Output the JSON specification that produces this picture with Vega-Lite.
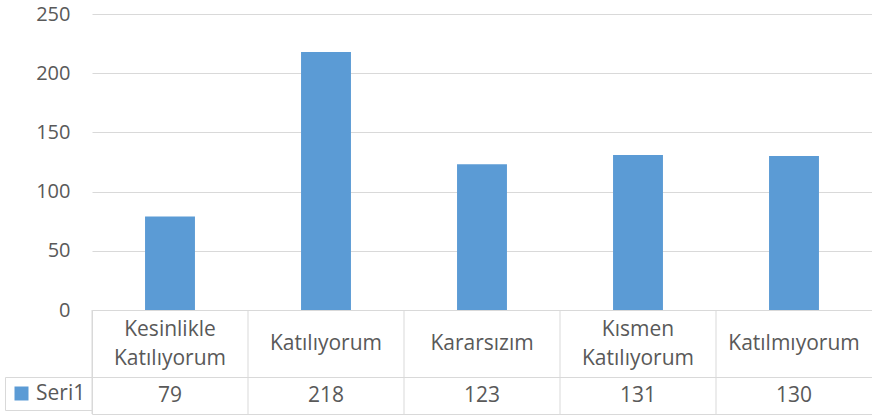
{
  "$schema": "https://vega.github.io/schema/vega-lite/v6.json",
  "padding": {"left": 4, "top": 4, "right": 0, "bottom": 0},
  "spacing": 0,
  "bounds": "flush",
  "config": {"font": "Open Sans", "view": {"stroke": null}},
  "data": {"values": [
    {"cat": "Kesinlikle Katılıyorum", "value": 79},
    {"cat": "Katılıyorum", "value": 218},
    {"cat": "Kararsızım", "value": 123},
    {"cat": "Kısmen Katılıyorum", "value": 131},
    {"cat": "Katılmıyorum", "value": 130}
  ]},
  "resolve": {"scale": {"x": "independent", "y": "independent", "color": "independent"}, "legend": {"color": "independent"}},
  "vconcat": [
    {
      "width": 780, "height": 296,
      "mark": {"type": "bar", "color": "#5B9BD5"},
      "encoding": {
        "x": {"field": "cat", "type": "nominal", "sort": null, "axis": null, "scale": {"paddingInner": 0.68, "paddingOuter": 0.34}},
        "y": {"field": "value", "type": "quantitative", "scale": {"domain": [0, 250], "nice": false},
          "axis": {"values": [0, 50, 100, 150, 200, 250], "title": null, "domain": false, "ticks": false, "labelPadding": 22, "labelFontSize": 20, "labelColor": "#595959", "gridColor": "#d9d9d9", "gridWidth": 1}}
      }
    },
    {
      "width": 780, "height": 67,
      "view": {"stroke": "#d9d9d9"},
      "encoding": {
        "x": {"field": "cat", "type": "nominal", "sort": null, "scale": {"type": "band", "padding": 0}, "axis": null}
      },
      "layer": [
        {
          "mark": {"type": "rule", "color": "#d9d9d9", "strokeWidth": 1},
          "encoding": {"x": {"field": "cat", "type": "nominal", "sort": null, "bandPosition": 0}}
        },
        {
          "mark": {"type": "text", "fontSize": 21, "lineBreak": " ", "lineHeight": 29, "color": "#595959",
            "dy": {"expr": "indexof(datum.cat, ' ') >= 0 ? -14 : 0"}},
          "encoding": {"text": {"field": "cat"}}
        }
      ]
    },
    {
      "width": 780, "height": 37,
      "view": {"stroke": "#d9d9d9"},
      "encoding": {
        "x": {"field": "cat", "type": "nominal", "sort": null, "scale": {"type": "band", "padding": 0}, "axis": null}
      },
      "layer": [
        {
          "mark": {"type": "rule", "color": "#d9d9d9", "strokeWidth": 1},
          "encoding": {"x": {"field": "cat", "type": "nominal", "sort": null, "bandPosition": 0}}
        },
        {
          "mark": {"type": "text", "fontSize": 21, "color": "#595959"},
          "encoding": {"text": {"field": "value"}}
        },
        {
          "mark": {"type": "square", "opacity": 0},
          "encoding": {
            "color": {"datum": "Seri1", "scale": {"range": ["#5B9BD5"]},
              "legend": {"title": null, "orient": "left", "offset": 0, "padding": 6, "strokeColor": "#d9d9d9", "symbolType": "square", "symbolSize": 196, "symbolStrokeWidth": 0, "labelFontSize": 21, "labelColor": "#595959", "labelOffset": 4}}
          }
        }
      ]
    }
  ]
}
